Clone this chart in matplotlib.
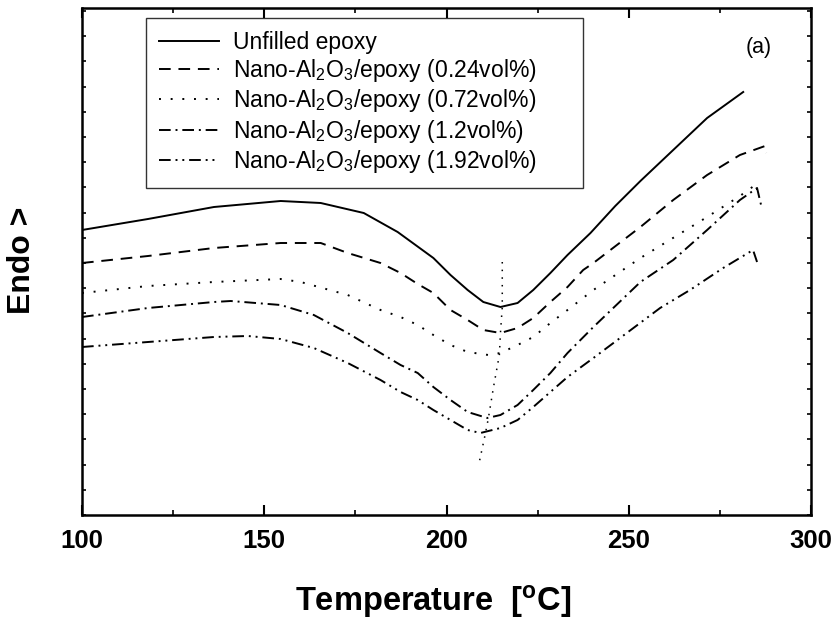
import matplotlib
matplotlib.use('Agg')
import matplotlib.pyplot as plt
from matplotlib.ticker import MultipleLocator, NullFormatter

plt.rcParams['font.family'] = ['Liberation Sans', 'DejaVu Sans']
plt.rcParams['mathtext.fontset'] = 'custom'
plt.rcParams['mathtext.rm'] = 'Liberation Sans'
plt.rcParams['mathtext.it'] = 'Liberation Sans:italic'
plt.rcParams['mathtext.bf'] = 'Liberation Sans:bold'

# DSC traces, heat flow in arbitrary units (endo up)
t_unfilled = [100.0, 118.1, 136.2, 154.5, 165.5, 177.3, 186.6, 196.4, 201.1, 205.8, 210.1,
              214.8, 219.5, 223.8, 228.5, 233.2, 239.5, 246.3, 253.2, 262.2, 271.5, 281.4]
y_unfilled = [11.32, 11.76, 12.24, 12.48, 12.40, 12.00, 11.24, 10.20, 9.52, 8.92, 8.44,
              8.24, 8.40, 8.92, 9.60, 10.32, 11.20, 12.28, 13.28, 14.52, 15.80, 16.84]

t_024 = [100.0, 118.1, 136.2, 154.5, 165.5, 172.9, 181.9, 187.4, 192.1, 196.4, 201.1, 205.8, 210.1,
         214.8, 219.5, 223.8, 228.5, 233.2, 237.5, 240.3, 253.2, 262.2, 271.5, 280.5, 287.4, 287.7]
y_024 = [10.00, 10.28, 10.60, 10.80, 10.80, 10.40, 10.00, 9.60, 9.16, 8.80, 8.12, 7.72, 7.32,
         7.20, 7.40, 7.80, 8.44, 9.04, 9.72, 10.00, 11.44, 12.52, 13.52, 14.32, 14.68, 14.40]

t_072 = [100.0, 118.1, 136.2, 154.5, 160.0, 172.9, 181.9, 187.4, 192.1, 196.4, 201.1, 205.8,
         211.5, 214.8, 219.5, 223.8, 228.5, 233.2, 240.3, 253.2, 271.5, 280.5, 284.7]
y_072 = [8.80, 9.08, 9.24, 9.36, 9.24, 8.72, 8.12, 7.84, 7.52, 7.12, 6.72, 6.44,
         6.32, 6.40, 6.72, 7.04, 7.60, 8.12, 8.92, 10.20, 11.84, 12.68, 13.12]

t_12 = [100.0, 118.1, 136.2, 140.8, 154.5, 163.6, 172.9, 181.9, 187.4, 192.1, 196.4, 201.1, 205.8,
        211.2, 214.8, 219.5, 223.8, 228.5, 233.2, 240.3, 253.2, 262.2, 271.5, 280.5, 285.2, 286.3]
y_12 = [7.84, 8.20, 8.44, 8.48, 8.32, 7.92, 7.20, 6.40, 5.92, 5.60, 5.04, 4.52, 4.04,
        3.80, 3.92, 4.32, 4.92, 5.60, 6.40, 7.44, 9.24, 10.12, 11.32, 12.52, 13.00, 12.32]

t_192 = [100.0, 118.1, 136.2, 145.5, 154.5, 163.6, 172.9, 181.9, 187.4, 192.1, 196.4, 201.1, 205.8,
         209.3, 214.8, 219.5, 223.8, 228.5, 233.2, 240.3, 258.6, 266.8, 275.9, 284.1, 285.2]
y_192 = [6.64, 6.84, 7.04, 7.08, 6.96, 6.60, 6.00, 5.32, 4.84, 4.52, 4.12, 3.72, 3.32,
         3.20, 3.40, 3.72, 4.24, 4.84, 5.44, 6.20, 8.20, 8.92, 9.80, 10.52, 10.04]

# trace through the peak minima
t_peak = [215.3, 215.3, 214.8, 214.5, 212.9, 211.5, 210.7, 209.0]
y_peak = [10.04, 8.24, 7.20, 6.32, 5.04, 3.80, 3.20, 2.04]

labels = ['Unfilled epoxy',
          'Nano-Al$_2$O$_3$/epoxy (0.24vol%)',
          'Nano-Al$_2$O$_3$/epoxy (0.72vol%)',
          'Nano-Al$_2$O$_3$/epoxy (1.2vol%)',
          'Nano-Al$_2$O$_3$/epoxy (1.92vol%)']

fig = plt.figure(figsize=(8.35, 6.21), dpi=100)
ax = fig.add_axes([82/835, 1-515/621, 729/835, 507/621])

lw = 1.4
ax.plot(t_unfilled, y_unfilled, color='black', lw=lw, label=labels[0])
ax.plot(t_024, y_024, color='black', lw=lw, dashes=(6, 4), label=labels[1])
ax.plot(t_072, y_072, color='black', lw=lw, dashes=(1, 5), label=labels[2])
ax.plot(t_12, y_12, color='black', lw=lw, dashes=(6, 2.5, 1, 2.5), label=labels[3])
ax.plot(t_192, y_192, color='black', lw=lw, dashes=(6, 2.5, 1, 2.5, 1, 2.5), label=labels[4])
ax.plot(t_peak, y_peak, color='black', lw=1.1, dashes=(1, 4))

ax.set_xlim(100, 300)
ax.set_ylim(-0.08, 20.2)
ax.xaxis.set_major_locator(MultipleLocator(50))
ax.xaxis.set_minor_locator(MultipleLocator(25))
ax.yaxis.set_major_locator(MultipleLocator(1.008, offset=-0.08))
ax.yaxis.set_major_formatter(NullFormatter())
ax.tick_params(axis='x', which='major', direction='in', length=7, width=1.5, top=True,
               labelsize=18.5, pad=10)
ax.tick_params(axis='x', which='minor', direction='in', length=3.5, width=1.2, top=True)
ax.tick_params(axis='y', which='major', direction='in', length=3, width=1.2, right=True)
for lab in ax.get_xticklabels():
    lab.set_fontweight('bold')
for sp in ax.spines.values():
    sp.set_linewidth(1.8)

ax.set_xlabel('Temperature  [$^\\mathbf{o}$C]', fontsize=23.5, fontweight='bold')
ax.xaxis.set_label_coords(0.482, -0.135)
ax.set_ylabel('Endo >', fontsize=23, fontweight='bold', va='center')
ax.yaxis.set_label_coords(-0.082, 0.502)

fig.text(759/835, 1-48/621, '(a)', fontsize=15.5, ha='center', va='center')

leg = ax.legend(loc='upper left',
                bbox_to_anchor=((146-82)/729, (515-18)/507, (583-146)/729, 0.0),
                mode='expand', borderaxespad=0, fontsize=16.5, handlelength=2.65,
                handletextpad=0.6, labelspacing=0.15, borderpad=0.55,
                fancybox=False, frameon=True)
leg.get_frame().set_edgecolor('black')
leg.get_frame().set_linewidth(1.0)

fig.savefig('out.png', dpi=100)
